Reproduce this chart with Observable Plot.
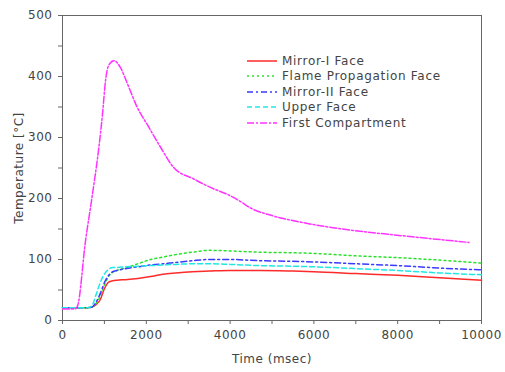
<!DOCTYPE html>
<html>
<head>
<meta charset="utf-8">
<script src="https://cdn.jsdelivr.net/npm/d3@7"></script>
<script src="https://cdn.jsdelivr.net/npm/@observablehq/plot@0.6"></script>
<style>
  html, body { margin: 0; padding: 0; background: #fff; }
  #wrap { position: relative; width: 505px; height: 372px; font-family: "DejaVu Sans", sans-serif; }
  #wrap svg text { letter-spacing: 0.5px; }
  #legend { position: absolute; left: 246px; top: 53px; font-size: 12px; color: #444; letter-spacing: 0.7px; }
  #legend .row { display: flex; align-items: center; height: 15.5px; }
  #legend svg { margin-right: 4px; }
</style>
</head>
<body>
<div id="wrap"></div>
<script>
// ---- data ----
// shared time base (msec) for the four face series
const time = [0, 300, 600, 700, 800, 900, 1000, 1100, 1200, 1300, 1500, 1800, 2100, 2400, 2700, 3100, 3500, 4000, 4700, 5500, 6000, 7000, 8000, 9000, 10000];

const mirrorI   = [21, 21, 21, 22, 26, 34, 52, 63, 65, 66, 67, 69, 72, 76, 78, 80, 81, 82, 82, 81, 80, 77, 74, 70, 66];
const flameProp = [21, 21, 21, 22, 28, 40, 58, 72, 79, 82, 86, 93, 100, 104, 108, 112, 115, 114, 112, 111, 110, 106, 103, 99, 94];
const mirrorII  = [21, 21, 21, 22, 30, 44, 62, 74, 80, 82, 85, 88, 91, 93, 95, 98, 100, 100, 98, 97, 96, 93, 90, 86, 83];
const upperFace = [21, 21, 21, 24, 42, 62, 76, 84, 87, 87, 88, 89, 90, 91, 92, 93, 93, 92, 90, 89, 88, 85, 82, 78, 75];

// first compartment has its own time base (ends before 10000)
const firstCompTime = [0, 300, 360, 550, 700, 870, 950, 1030, 1100, 1225, 1380, 1550, 1780, 2060, 2340, 2650, 3130, 3600, 3930, 4250, 4500, 5000, 5700, 6900, 8100, 9700];
const firstComp     = [19, 19, 24, 131, 200, 285, 335, 395, 418, 426, 415, 388, 350, 317, 284, 251, 232, 216, 207, 195, 184, 172, 161, 148, 139, 128];

const seriesNames  = ["Mirror-I Face", "Flame Propagation Face", "Mirror-II Face", "Upper Face", "First Compartment"];
const seriesTimes  = [time, time, time, time, firstCompTime];
const seriesValues = [mirrorI, flameProp, mirrorII, upperFace, firstComp];
const seriesColors = ["#ff2a2a", "#2ee02e", "#3a3aff", "#22e6e6", "#ff33ff"];
const seriesDash   = [null, "2,3", "6,3,2,3", "5,3", "7,2,2,2"];

const yTicks = d3.range(0, 501, 50);
const xTicks = d3.range(0, 10001, 1000);

// ---- build table ----
const rows = [];
seriesNames.forEach((name, i) => {
  seriesTimes[i].forEach((t, j) => {
    rows.push({series: name, t, v: seriesValues[i][j], i});
  });
});

const lineMarks = seriesNames.map((name, i) =>
  Plot.line(rows.filter(d => d.i === i), {
    x: "t", y: "v",
    stroke: seriesColors[i],
    strokeWidth: 1.5,
    strokeDasharray: seriesDash[i],
    curve: "monotone-x"
  })
);

const chart = Plot.plot({
  width: 505,
  height: 372,
  marginLeft: 62,
  marginRight: 24,
  marginTop: 15,
  marginBottom: 52,
  style: {fontFamily: "DejaVu Sans, sans-serif", fontSize: "12px", color: "#444", background: "#fff"},
  x: {domain: [0, 10000]},
  y: {domain: [0, 500]},
  marks: [
    Plot.frame({stroke: "#666"}),
    Plot.axisY({
      ticks: yTicks,
      tickFormat: d => (d % 100 === 0 ? String(d) : ""),
      tickSize: 4,
      tickPadding: 6,
      fontSize: 12,
      stroke: "#666",
      label: "Temperature [°C]",
      labelAnchor: "center",
      labelArrow: "none",
      labelOffset: 48
    }),
    Plot.axisX({
      ticks: xTicks,
      tickFormat: d => (d % 2000 === 0 ? String(d) : ""),
      tickSize: 4,
      tickPadding: 6,
      fontSize: 12,
      stroke: "#666",
      label: "Time (msec)",
      labelAnchor: "center",
      labelArrow: "none",
      labelOffset: 42
    }),
    ...lineMarks
  ]
});

const wrap = document.getElementById("wrap");
wrap.appendChild(chart);

// ---- legend overlay ----
const legend = document.createElement("div");
legend.id = "legend";
seriesNames.forEach((name, i) => {
  const row = document.createElement("div");
  row.className = "row";
  const ns = "http://www.w3.org/2000/svg";
  const svg = document.createElementNS(ns, "svg");
  svg.setAttribute("width", "32");
  svg.setAttribute("height", "6");
  const ln = document.createElementNS(ns, "line");
  ln.setAttribute("x1", "1"); ln.setAttribute("x2", "31");
  ln.setAttribute("y1", "3"); ln.setAttribute("y2", "3");
  ln.setAttribute("stroke", seriesColors[i]);
  ln.setAttribute("stroke-width", "1.5");
  if (seriesDash[i]) ln.setAttribute("stroke-dasharray", seriesDash[i]);
  svg.appendChild(ln);
  const span = document.createElement("span");
  span.textContent = name;
  row.appendChild(svg);
  row.appendChild(span);
  legend.appendChild(row);
});
wrap.appendChild(legend);
</script>
</body>
</html>
